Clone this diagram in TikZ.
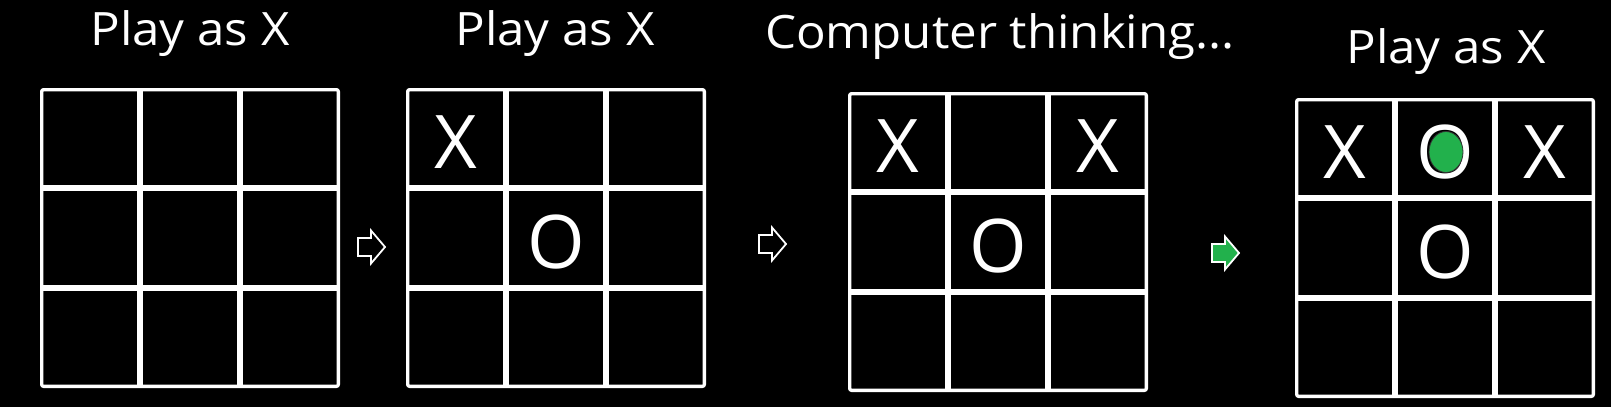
\documentclass[tikz,border=0pt]{standalone}
\usepackage{fontspec}
\setmainfont{Open Sans}
\newfontfamily\titlefont[FakeStretch=1.07]{Open Sans}
\definecolor{mygreen}{RGB}{34,177,76}
\begin{document}
\begin{tikzpicture}[x=1pt,y=-1pt,
  title/.style={text=white, font=\titlefont\fontsize{46}{55}\selectfont, anchor=base, inner sep=0pt},
  piece/.style={text=white, font=\fontsize{74}{88}\selectfont, anchor=base, inner sep=0pt},
  outerline/.style={draw=white, line width=3.3pt, rounded corners=2pt},
  innerline/.style={draw=white, line width=5.3pt},
  tttboard/.pic={
    \draw[outerline] (1.65,1.65) rectangle (298.35,298.35);
    \draw[innerline] (100,1.65) -- (100,298.35) (200,1.65) -- (200,298.35)
                     (1.65,100) -- (298.35,100) (1.65,200) -- (298.35,200);
  },
  arrowshape/.pic={
    \path[pic actions] (0,-9) -- (13,-9) -- (13,-16.5) -- (27,0) -- (13,16.5) -- (13,9) -- (0,9) -- cycle;
  },
  whitearrow/.style={draw=white, line width=1.8pt, fill=black},
  greenarrow/.style={draw=white, line width=1.8pt, fill=mygreen}
]
\useasboundingbox (0,0) rectangle (1611,407);
\fill[black] (0,0) rectangle (1611,407);

% titles
\node[title] (t1) at (190,45) {Play as X};
\node[title] (t2) at (555,45) {Play as X};
\node[title] (t3) at (1000,48) {Computer thinking...};
\node[title] (t4) at (1446,63) {Play as X};

% boards
\pic (b1) at (40,88) {tttboard};
\pic (b2) at (406,88) {tttboard};
\pic (b3) at (848,92) {tttboard};
\pic (b4) at (1295,98) {tttboard};

% arrows
\pic[whitearrow] (a1) at (358,247) {arrowshape};
\pic[whitearrow] (a2) at (759,244) {arrowshape};
\pic[greenarrow] (a3) at (1212,253) {arrowshape};

% board 2 pieces
\node[piece] (p2x) at (456,168) {X};
\node[piece] (p2o) at (556,268) {O};

% board 3 pieces
\node[piece] (p3xa) at (898,172) {X};
\node[piece] (p3xb) at (1098,172) {X};
\node[piece] (p3o) at (998,272) {O};

% board 4 pieces
\node[piece] (p4xa) at (1345,178) {X};
\node[piece] (p4ot) at (1445,178) {O};
\node[piece] (p4xb) at (1545,178) {X};
\node[piece] (p4om) at (1445,278) {O};
\draw[fill=mygreen, draw=black!80, line width=0.8pt] (1446,152) ellipse [x radius=17, y radius=20.5];
\end{tikzpicture}
\end{document}
